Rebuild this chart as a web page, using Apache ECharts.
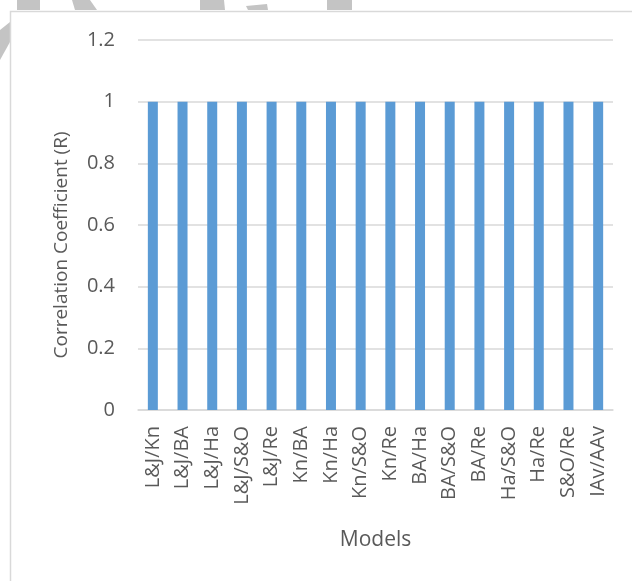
<!DOCTYPE html>
<html>
<head>
<meta charset="utf-8">
<script src="https://cdn.jsdelivr.net/npm/echarts@6/dist/echarts.min.js"></script>
<style>
  html, body { margin: 0; padding: 0; background: #fff; }
  #chart { width: 632px; height: 581px; }
</style>
</head>
<body>
<div id="chart"></div>
<script>
// Model pairs along the x axis
const models = ['L&J/Kn', 'L&J/BA', 'L&J/Ha', 'L&J/S&O', 'L&J/Re', 'Kn/BA', 'Kn/Ha', 'Kn/S&O',
  'Kn/Re', 'BA/Ha', 'BA/S&O', 'BA/Re', 'Ha/S&O', 'Ha/Re', 'S&O/Re', 'IAv/AAv'];
// Correlation coefficient for each pair
const rValues = [1, 1, 1, 1, 1, 1, 1, 1, 1, 1, 1, 1, 1, 1, 1, 1];
// Value axis range and step
const yMin = 0, yMax = 1.2, yStep = 0.2;
const yTitle = 'Correlation Coefficient (R)';

const textColor = '#595959';
const fontFamily = 'Open Sans';

const chart = echarts.init(document.getElementById('chart'));
chart.setOption({
  animation: false,
  backgroundColor: '#ffffff',
  grid: { left: 138, right: 19, top: 40, bottom: 171, containLabel: false },
  graphic: [
    // chart frame
    { type: 'rect', shape: { x: 10.5, y: 11.5, width: 640, height: 600 },
      style: { fill: 'none', stroke: '#d9d9d9', lineWidth: 1.5 }, z: -1 },
    // faint grey shapes above the frame
    { type: 'polygon', shape: { points: [[17, 0], [40, 0], [40, 10], [17, 10]] }, style: { fill: '#c4c4c4' }, z: -2 },
    { type: 'polygon', shape: { points: [[72, 0], [90, 0], [97, 10], [75, 10]] }, style: { fill: '#c4c4c4' }, z: -2 },
    { type: 'polygon', shape: { points: [[200, 0], [224, 0], [225, 10], [200, 10]] }, style: { fill: '#c4c4c4' }, z: -2 },
    { type: 'polygon', shape: { points: [[246, 6], [267, 4], [268, 10], [248, 10]] }, style: { fill: '#c4c4c4' }, z: -2 },
    { type: 'polygon', shape: { points: [[327, 0], [352, 0], [352, 10], [327, 10]] }, style: { fill: '#c4c4c4' }, z: -2 },
    { type: 'polygon', shape: { points: [[0, 30], [10, 22], [10, 42], [0, 60]] }, style: { fill: '#c4c4c4' }, z: -2 },
    // value axis title
    { type: 'text', x: 62, y: 245, rotation: Math.PI / 2,
      style: { text: yTitle, fill: textColor, fontFamily, fontSize: 19,
        align: 'center', verticalAlign: 'middle' } }
  ],
  xAxis: {
    type: 'category',
    data: models,
    name: 'Models',
    nameLocation: 'middle',
    nameGap: 120,
    nameTextStyle: { color: textColor, fontFamily, fontSize: 21 },
    axisLine: { lineStyle: { color: '#d9d9d9', width: 1.5 } },
    axisTick: { show: false },
    axisLabel: { rotate: 90, color: textColor, fontFamily, fontSize: 20, margin: 16, interval: 0 }
  },
  yAxis: {
    type: 'value',
    min: yMin, max: yMax, interval: yStep,
    axisLine: { show: false },
    axisTick: { show: false },
    axisLabel: {
      color: textColor, fontFamily, fontSize: 20, margin: 23,
      formatter: v => String(Math.round(v * 10) / 10)
    },
    splitLine: { lineStyle: { color: '#d9d9d9', width: 1.5 } }
  },
  series: [{
    type: 'bar',
    data: rValues,
    barWidth: 10,
    itemStyle: { color: '#5b9bd5' }
  }]
});
</script>
</body>
</html>
